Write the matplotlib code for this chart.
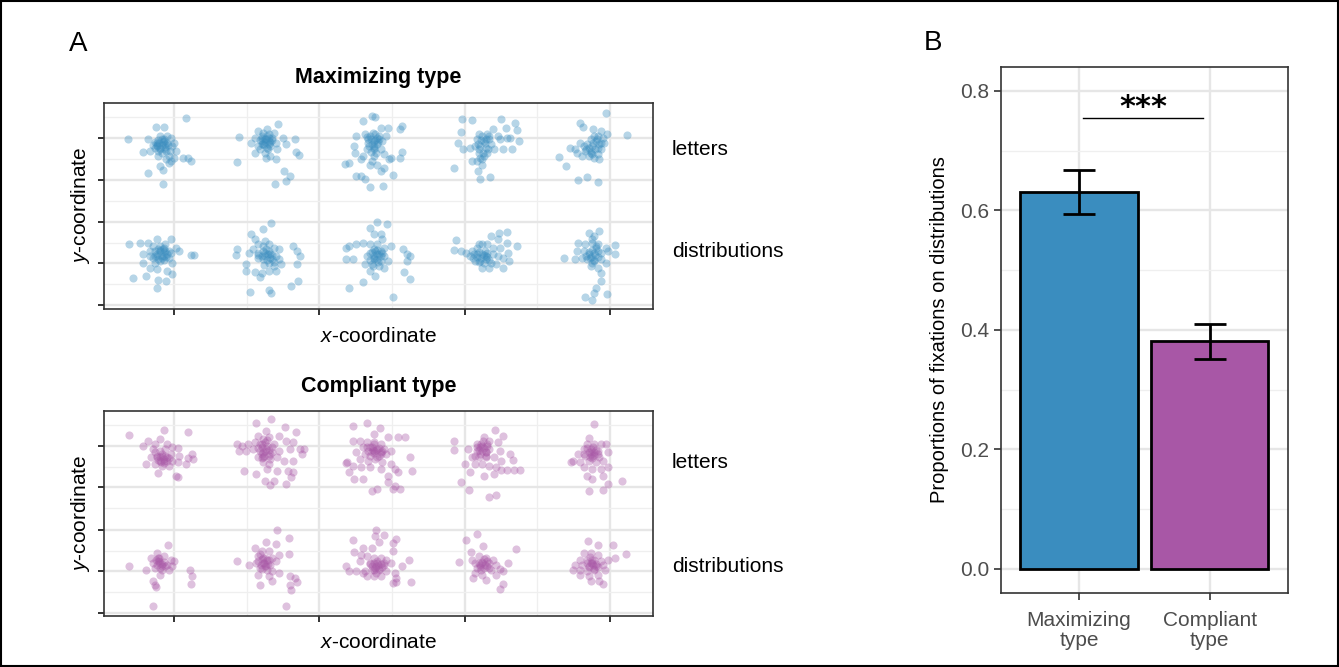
import numpy as np
import matplotlib
matplotlib.use('Agg')
import matplotlib.pyplot as plt
from matplotlib.patches import Rectangle

plt.rcParams['font.family'] = ['Liberation Sans', 'DejaVu Sans']
plt.rcParams['mathtext.fontset'] = 'custom'
plt.rcParams['mathtext.it'] = 'Liberation Sans:italic'
plt.rcParams['mathtext.rm'] = 'Liberation Sans'

# gaze samples (screen px, y grows downwards)
max_letters = [
    (68, 108), (125, 108), (148, 73), (172, 73), (235, 46), (160, 100), (150, 120), (140, 128), (165, 128), (180, 120),
    (190, 105), (195, 130), (175, 140), (155, 145), (130, 145), (112, 147), (185, 160), (190, 175), (200, 165), (225, 165),
    (240, 165), (248, 175), (160, 188), (168, 200), (125, 210), (168, 243), (150, 130), (170, 115), (180, 100), (165, 110),
    (145, 135), (160, 135), (175, 125), (188, 145), (200, 120), (205, 145), (155, 160), (178, 170), (185, 180), (145, 118),
    (158, 122), (168, 118), (175, 132), (160, 140), (150, 128), (182, 128), (170, 108), (155, 112), (165, 150), (178, 145),
    (387, 102), (380, 178), (440, 85), (465, 80), (498, 65), (420, 120), (430, 105), (450, 100), (460, 110), (470, 115),
    (480, 105), (490, 120), (455, 125), (465, 135), (445, 140), (430, 150), (460, 150), (475, 160), (490, 170), (510, 105),
    (520, 125), (545, 110), (548, 148), (558, 158), (470, 95), (455, 90), (485, 90), (440, 130), (475, 130), (462, 165),
    (495, 140), (515, 205), (520, 233), (488, 243), (530, 218), (460, 118), (470, 125), (450, 115),
    (452, 105), (465, 100), (475, 118), (458, 128), (445, 112), (468, 140), (480, 112), (462, 108), (450, 125), (472, 105),
    (765, 40), (775, 42), (740, 55), (790, 75), (810, 75), (850, 70), (845, 80), (720, 100), (745, 95), (760, 100),
    (775, 95), (785, 110), (770, 115), (755, 120), (765, 125), (780, 125), (795, 115), (805, 100), (750, 140), (770, 140),
    (790, 140), (800, 155), (770, 160), (740, 160), (715, 130), (718, 150), (735, 170), (700, 180), (688, 182), (760, 185),
    (780, 185), (800, 195), (815, 168), (850, 148), (845, 165), (820, 165), (720, 220), (735, 218), (745, 228), (760, 252),
    (797, 250), (825, 217), (790, 205), (765, 175), (755, 110), (780, 105), (770, 130),
    (762, 108), (775, 112), (768, 92), (782, 118), (758, 130), (772, 135), (786, 100), (764, 148), (778, 150), (752, 102),
    (1022, 50), (1050, 52), (1135, 50), (1148, 75), (1175, 62), (1180, 82), (1110, 80), (1020, 88), (1070, 95), (1080, 100),
    (1095, 95), (1065, 110), (1085, 115), (1100, 110), (1125, 100), (1130, 110), (1150, 105), (1185, 115), (1010, 120), (1025, 140),
    (1060, 130), (1075, 130), (1090, 135), (1105, 125), (1115, 140), (1140, 140), (1165, 140), (1070, 150), (1085, 160), (1065, 175),
    (1080, 170), (1050, 175), (1000, 195), (1068, 205), (1075, 228), (1102, 223), (1160, 105), (1045, 135), (1095, 150),
    (1078, 112), (1088, 122), (1072, 140), (1092, 110), (1082, 150), (1068, 125), (1098, 140), (1080, 185), (1075, 165), (1100, 100),
    (1435, 30), (1360, 62), (1368, 72), (1398, 78), (1420, 85), (1438, 95), (1493, 97), (1400, 100), (1390, 110), (1405, 115),
    (1420, 120), (1380, 125), (1370, 130), (1395, 130), (1410, 135), (1360, 120), (1330, 135), (1350, 150), (1365, 160), (1385, 160),
    (1400, 165), (1415, 170), (1375, 145), (1300, 162), (1320, 188), (1355, 232), (1380, 222), (1412, 236), (1428, 120), (1425, 105),
    (1345, 140), (1390, 145), (1412, 155),
    (1398, 120), (1408, 110), (1385, 135), (1402, 140), (1390, 150), (1415, 125), (1378, 140), (1395, 155), (1410, 100), (1420, 140),
]

max_distributions = [
    (72, 424), (102, 419), (125, 419), (150, 409), (190, 409), (140, 429), (160, 429), (175, 424), (205, 434), (215, 444),
    (130, 444), (145, 444), (160, 444), (175, 444), (190, 449), (110, 454), (130, 459), (150, 459), (170, 459), (185, 464),
    (195, 479), (160, 474), (145, 479), (110, 479), (130, 494), (150, 499), (180, 504), (195, 514), (120, 519), (82, 524),
    (155, 532), (178, 534), (150, 556), (248, 456), (258, 456), (155, 439), (170, 434), (165, 466), (140, 464), (180, 454),
    (160, 440), (172, 448), (150, 452), (165, 458), (178, 462), (155, 468), (168, 438), (185, 445), (145, 458), (172, 472),
    (477, 359), (453, 379), (420, 394), (430, 409), (460, 414), (440, 424), (455, 429), (470, 424), (485, 434), (500, 439),
    (425, 439), (380, 439), (378, 456), (415, 449), (440, 449), (460, 449), (475, 454), (490, 459), (500, 469), (505, 484),
    (440, 464), (455, 469), (470, 479), (485, 489), (405, 484), (405, 504), (430, 506), (450, 509), (470, 504), (490, 504),
    (445, 522), (540, 429), (550, 444), (560, 459), (550, 484), (555, 534), (535, 549), (418, 566), (470, 562), (478, 569),
    (460, 459), (480, 469), (470, 444),
    (455, 445), (468, 452), (462, 438), (475, 465), (450, 460), (480, 455), (465, 470), (440, 455), (458, 485), (485, 478),
    (780, 356), (808, 364), (760, 374), (790, 394), (770, 394), (795, 409), (700, 429), (720, 424), (740, 419), (760, 424),
    (780, 424), (800, 434), (820, 429), (690, 434), (770, 439), (790, 444), (760, 449), (780, 454), (800, 459), (750, 459),
    (770, 469), (790, 474), (810, 474), (690, 469), (710, 469), (745, 484), (765, 484), (785, 489), (800, 494), (760, 504),
    (775, 519), (740, 537), (700, 556), (825, 581), (855, 439), (865, 454), (875, 459), (865, 474), (858, 506), (875, 527),
    (780, 469), (770, 459),
    (775, 445), (785, 452), (770, 465), (792, 460), (765, 448), (780, 440), (782, 478), (768, 488), (795, 450), (760, 470),
    (1005, 412), (1128, 389), (1150, 386), (1105, 399), (1125, 409), (1150, 419), (1180, 429), (1155, 449), (1000, 442), (1020, 444),
    (1035, 449), (1050, 444), (1065, 434), (1080, 424), (1095, 424), (1110, 434), (1130, 434), (1045, 459), (1065, 454), (1080, 454),
    (1095, 449), (1110, 454), (1125, 459), (1060, 474), (1075, 474), (1090, 469), (1105, 479), (1120, 484), (1140, 494), (1080, 494),
    (1100, 494), (1070, 424), (1055, 464), (1090, 459), (1140, 464), (1158, 474),
    (1072, 448), (1085, 455), (1078, 465), (1095, 462), (1065, 462), (1088, 445), (1100, 470), (1070, 478), (1085, 480), (1058, 452),
    (1415, 384), (1385, 389), (1400, 399), (1355, 419), (1375, 424), (1395, 419), (1410, 424), (1435, 434), (1460, 426), (1460, 452),
    (1350, 444), (1370, 444), (1385, 454), (1400, 449), (1420, 449), (1440, 444), (1315, 466), (1345, 469), (1365, 464), (1380, 469),
    (1400, 474), (1420, 469), (1435, 479), (1390, 489), (1410, 494), (1420, 509), (1420, 534), (1405, 556), (1400, 569), (1375, 582),
    (1395, 591), (1438, 574), (1395, 409), (1405, 434), (1392, 462),
    (1395, 440), (1402, 455), (1388, 465), (1400, 470), (1410, 445), (1385, 448), (1395, 480), (1405, 428), (1378, 458), (1412, 462),
]

comp_letters = [
    (70, 73), (172, 58), (240, 63), (110, 105), (125, 90), (160, 85), (180, 100), (145, 100), (140, 115), (160, 120),
    (175, 115), (195, 110), (210, 112), (135, 140), (150, 135), (165, 135), (180, 140), (195, 150), (210, 155), (235, 160),
    (250, 130), (255, 145), (120, 160), (145, 160), (165, 165), (185, 165), (155, 188), (205, 195), (210, 200), (170, 150),
    (160, 150), (190, 130), (215, 135), (145, 125), (240, 142),
    (160, 140), (170, 145), (175, 135), (155, 148), (165, 130), (180, 150), (150, 140), (172, 158), (162, 155), (185, 142),
    (478, 25), (435, 38), (518, 48), (548, 63), (462, 60), (440, 75), (455, 85), (470, 78), (500, 75), (520, 90),
    (380, 100), (395, 105), (410, 100), (430, 95), (450, 100), (465, 105), (485, 100), (540, 95), (385, 120), (405, 120),
    (425, 115), (445, 120), (460, 120), (480, 125), (500, 120), (530, 115), (560, 115), (570, 115), (565, 130), (440, 140),
    (455, 140), (475, 145), (495, 140), (515, 150), (540, 150), (400, 180), (435, 190), (465, 175), (495, 180), (525, 180),
    (540, 185), (535, 200), (460, 210), (485, 210), (475, 222), (520, 220), (455, 155), (470, 160), (450, 130), (470, 135),
    (450, 110), (462, 115), (455, 125), (470, 118), (445, 100), (460, 95), (475, 130), (458, 135), (440, 112), (465, 88),
    (480, 110), (452, 142),
    (712, 47), (752, 38), (788, 52), (770, 70), (810, 80), (840, 80), (860, 80), (710, 90), (730, 90), (750, 95),
    (770, 95), (790, 100), (740, 110), (760, 110), (780, 115), (800, 115), (820, 120), (720, 125), (745, 130), (765, 125),
    (785, 135), (805, 130), (730, 145), (755, 150), (775, 145), (795, 155), (820, 160), (875, 140), (695, 155), (690, 158),
    (710, 165), (735, 170), (760, 170), (790, 175), (830, 175), (840, 185), (880, 180), (715, 205), (740, 205), (810, 215),
    (830, 225), (845, 235), (825, 235), (765, 240), (780, 235), (700, 185), (810, 195), (770, 120), (790, 125),
    (765, 110), (778, 118), (770, 128), (785, 112), (755, 120), (772, 100), (790, 130), (760, 135), (780, 140), (768, 118),
    (750, 108), (795, 120),
    (1118, 58), (1140, 75), (1000, 90), (1000, 118), (1085, 80), (1100, 90), (1065, 100), (1080, 105), (1095, 100), (1125, 95),
    (1040, 115), (1065, 120), (1080, 120), (1100, 115), (1130, 120), (1050, 140), (1070, 140), (1090, 135), (1115, 140), (1135, 150),
    (1160, 130), (1168, 148), (1030, 160), (1060, 160), (1080, 160), (1100, 165), (1120, 170), (1135, 178), (1150, 178), (1170, 178),
    (1188, 178), (1045, 185), (1085, 195), (1115, 190), (1020, 215), (1042, 238), (1100, 258), (1120, 252), (1075, 110), (1090, 125),
    (1078, 100), (1085, 112), (1072, 118), (1090, 125), (1065, 110), (1082, 92), (1095, 105), (1075, 130), (1060, 135), (1090, 140),
    (1400, 40), (1385, 82), (1380, 100), (1400, 100), (1420, 100), (1435, 100), (1370, 115), (1390, 115), (1410, 120), (1440, 125),
    (1355, 130), (1375, 135), (1395, 135), (1415, 140), (1340, 150), (1360, 155), (1385, 150), (1405, 155), (1425, 150), (1335, 155),
    (1370, 170), (1395, 175), (1420, 175), (1440, 170), (1380, 195), (1395, 205), (1425, 195), (1440, 220), (1480, 212), (1385, 240),
    (1425, 238), (1390, 130), (1400, 125),
    (1392, 120), (1400, 132), (1385, 125), (1405, 118), (1395, 142), (1380, 112), (1412, 130), (1388, 140), (1398, 108), (1372, 130),
]

comp_distributions = [
    (72, 466), (182, 401), (150, 426), (135, 441), (155, 441), (170, 436), (190, 446), (200, 451), (120, 478), (140, 456),
    (160, 456), (180, 461), (195, 466), (145, 471), (165, 476), (185, 476), (160, 491), (140, 511), (145, 521), (148, 528),
    (245, 476), (252, 494), (248, 518), (140, 586), (155, 451), (165, 466),
    (158, 450), (165, 458), (152, 462), (170, 452), (160, 470), (148, 448), (175, 466), (158, 440),
    (495, 358), (528, 381), (462, 394), (490, 399), (430, 411), (450, 421), (470, 421), (440, 436), (460, 441), (480, 441),
    (500, 431), (528, 428), (415, 461), (435, 456), (455, 456), (475, 461), (490, 451), (445, 471), (465, 476), (480, 481),
    (500, 486), (380, 451), (440, 491), (470, 496), (445, 521), (480, 511), (530, 496), (545, 501), (550, 514), (530, 521),
    (535, 536), (520, 584), (460, 466), (470, 446),
    (450, 445), (458, 455), (448, 462), (462, 465), (440, 450), (455, 440), (468, 458), (452, 475), (445, 430), (465, 448),
    (778, 356), (800, 371), (775, 376), (835, 383), (712, 386), (785, 394), (825, 396), (740, 411), (765, 411), (715, 423),
    (735, 431), (825, 421), (750, 436), (770, 441), (790, 441), (805, 446), (730, 451), (760, 456), (780, 456), (800, 461),
    (820, 456), (850, 464), (870, 446), (690, 464), (700, 481), (720, 481), (745, 481), (765, 476), (785, 476), (805, 481),
    (750, 496), (770, 496), (790, 496), (830, 486), (835, 501), (825, 516), (835, 514), (877, 514), (740, 486), (778, 466),
    (770, 455), (782, 462), (775, 470), (790, 458), (765, 465), (780, 450), (795, 468), (770, 478), (785, 475), (760, 458),
    (800, 455), (778, 485),
    (1066, 368), (1035, 388), (1082, 404), (1178, 413), (1047, 424), (1070, 436), (1090, 441), (1110, 446), (1015, 454), (1050, 446),
    (1060, 456), (1080, 456), (1100, 456), (1120, 461), (1155, 456), (1065, 471), (1085, 471), (1105, 476), (1130, 474), (1140, 481),
    (1060, 486), (1080, 491), (1120, 491), (1055, 501), (1090, 506), (1140, 518), (1130, 533), (1095, 451), (1075, 461),
    (1080, 452), (1088, 462), (1075, 468), (1095, 465), (1070, 455), (1085, 445), (1100, 472), (1078, 478),
    (1383, 391), (1410, 401), (1455, 403), (1492, 428), (1460, 441), (1370, 426), (1390, 426), (1410, 431), (1360, 446), (1380, 446),
    (1400, 446), (1420, 451), (1345, 461), (1365, 461), (1385, 466), (1405, 466), (1425, 461), (1440, 446), (1340, 476), (1360, 476),
    (1380, 481), (1400, 476), (1430, 476), (1360, 491), (1385, 496), (1410, 491), (1415, 511), (1425, 518), (1390, 511), (1395, 456),
    (1390, 455), (1398, 462), (1385, 468), (1405, 458), (1395, 448), (1380, 455), (1400, 475), (1410, 468), (1388, 438),
]

x_major = [200, 615, 1030, 1445]
x_minor = [408, 822, 1238]
y_major = [105, 230, 356, 481, 606]
y_minor = [42, 168, 293, 419, 544]

types = ['Maximizing\ntype', 'Compliant\ntype']
prop_mean = [0.631, 0.381]
prop_low = [0.594, 0.352]
prop_high = [0.667, 0.409]

blue = '#3A8DBF'
purple = '#A857A6'

W, H = 1339, 667
fig = plt.figure(figsize=(W / 100, H / 100), dpi=100)


def px_box(left, top, right, bottom):
    return [left / W, 1 - bottom / H, (right - left) / W, (bottom - top) / H]


def gaze_panel(rect, letters, distributions, color):
    ax = fig.add_axes(rect)
    for pts in (letters, distributions):
        arr = np.array(pts)
        ax.scatter(arr[:, 0], arr[:, 1], s=34, color=color, alpha=0.37, linewidths=0)
    ax.set_xlim(0, 1568)
    ax.set_ylim(616, 0)
    ax.set_xticks(x_major)
    ax.set_xticks(x_minor, minor=True)
    ax.set_yticks(y_major)
    ax.set_yticks(y_minor, minor=True)
    ax.set_xticklabels([])
    ax.set_yticklabels([])
    ax.grid(which='major', color='#E6E6E6', lw=1.7)
    ax.grid(which='minor', color='#EFEFEF', lw=0.9)
    ax.set_axisbelow(True)
    ax.tick_params(which='major', length=4.5, width=1.4, color='#333333', direction='out')
    ax.tick_params(which='minor', length=0)
    for sp in ax.spines.values():
        sp.set_color('#333333')
        sp.set_linewidth(1.2)
    return ax


gaze_panel(px_box(104, 102.7, 653, 308.5), max_letters, max_distributions, blue)
gaze_panel(px_box(104, 410.7, 653, 616.3), comp_letters, comp_distributions, purple)


def fig_text(x, y, s, **kw):
    fig.text(x / W, 1 - y / H, s, **kw)


fig_text(69, 31, 'A', fontsize=20, ha='left', va='top')
fig_text(924, 30, 'B', fontsize=20, ha='left', va='top')

fig_text(378.5, 83.5, 'Maximizing type', fontsize=15.5, fontweight='bold', ha='center', va='baseline')
fig_text(378.5, 392, 'Compliant type', fontsize=15.5, fontweight='bold', ha='center', va='baseline')

for y0, s in [(155, 'letters'), (257, 'distributions'), (468, 'letters'), (572, 'distributions')]:
    fig_text(672, y0, s, fontsize=15, ha='left', va='baseline')

fig_text(378.5, 341.5, r'$\it{x}$-coordinate', fontsize=15, ha='center', va='baseline')
fig_text(378.5, 648, r'$\it{x}$-coordinate', fontsize=15, ha='center', va='baseline')
fig_text(80.5, 205.5, r'$\it{y}$-coordinate', fontsize=15, ha='center', va='center', rotation=90)
fig_text(80.5, 513.5, r'$\it{y}$-coordinate', fontsize=15, ha='center', va='center', rotation=90)

# panel B
axb = fig.add_axes(px_box(1000.7, 66.9, 1288, 592.8))
pos = np.array([1, 2])
mean = np.array(prop_mean)
yerr = np.vstack([mean - np.array(prop_low), np.array(prop_high) - mean])
axb.bar(pos, mean, width=0.9, color=[blue, purple], edgecolor='black', linewidth=2, zorder=2)
axb.errorbar(pos, mean, yerr=yerr, fmt='none', ecolor='black', elinewidth=2,
             capsize=11.5, capthick=2, zorder=3)
axb.plot([1.03, 1.95], [0.754, 0.754], color='black', lw=1, zorder=3)
axb.text(1.49, 0.772, '***', fontsize=22, fontweight='bold', ha='center', va='center', family='DejaVu Sans')

axb.set_xlim(0.4, 2.6)
axb.set_ylim(-0.04, 0.84)
axb.set_xticks(pos)
axb.set_xticklabels(types, fontsize=15, color='#4D4D4D', linespacing=1.1)
axb.set_yticks([0.0, 0.2, 0.4, 0.6, 0.8])
axb.set_yticklabels(['0.0', '0.2', '0.4', '0.6', '0.8'], fontsize=15, color='#4D4D4D')
axb.set_yticks([0.1, 0.3, 0.5, 0.7], minor=True)
axb.grid(which='major', color='#E6E6E6', lw=1.7)
axb.grid(which='minor', axis='y', color='#EFEFEF', lw=0.9)
axb.set_axisbelow(True)
axb.tick_params(which='major', length=5, width=1.2, color='#333333', pad=3)
axb.tick_params(axis='x', which='major', pad=8)
axb.tick_params(which='minor', length=0)
for sp in axb.spines.values():
    sp.set_color('#333333')
    sp.set_linewidth(1.2)
axb.set_ylabel('Proportions of fixations on distributions', fontsize=14.5, labelpad=8)

fig.add_artist(Rectangle((0.0008, 0.0015), 0.9984, 0.997, transform=fig.transFigure,
                         fill=False, ec='black', lw=1.5))

fig.savefig('out.png', dpi=100)
